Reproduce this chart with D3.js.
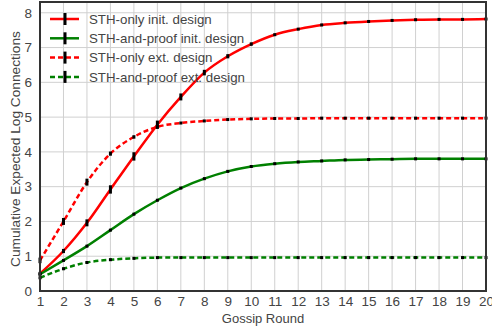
<!DOCTYPE html>
<html>
<head>
<meta charset="utf-8">
<script src="https://cdn.jsdelivr.net/npm/d3@7"></script>
<style>
body { margin: 0; background: #fff; }
text { font-family: "Liberation Sans", Arial, sans-serif; }
</style>
</head>
<body>
<script>
var width = 492;
var height = 330;

var rounds = d3.range(1, 21);

var sth_init = [0.5, 1.15, 1.96, 2.92, 3.87, 4.78, 5.58, 6.28, 6.75, 7.1, 7.37, 7.53, 7.65, 7.71, 7.75, 7.78, 7.8, 7.81, 7.81, 7.82];
var proof_init = [0.48, 0.88, 1.29, 1.75, 2.21, 2.61, 2.96, 3.23, 3.44, 3.58, 3.66, 3.71, 3.74, 3.77, 3.78, 3.79, 3.8, 3.8, 3.8, 3.8];
var sth_ext = [0.88, 2.0, 3.13, 3.95, 4.43, 4.72, 4.83, 4.89, 4.93, 4.95, 4.96, 4.96, 4.97, 4.97, 4.97, 4.97, 4.97, 4.97, 4.97, 4.97];
var proof_ext = [0.38, 0.64, 0.82, 0.9, 0.94, 0.96, 0.96, 0.96, 0.96, 0.96, 0.96, 0.96, 0.96, 0.96, 0.96, 0.96, 0.96, 0.96, 0.96, 0.96];

var sth_init_err = [0.05, 0.06, 0.1, 0.12, 0.12, 0.12, 0.1, 0.08, 0.06, 0.05, 0.04, 0.04, 0.04, 0.04, 0.04, 0.04, 0.04, 0.04, 0.04, 0.04];
var proof_init_err = [0.04, 0.04, 0.04, 0.04, 0.04, 0.04, 0.04, 0.04, 0.04, 0.04, 0.04, 0.04, 0.04, 0.04, 0.04, 0.04, 0.04, 0.04, 0.04, 0.04];
var sth_ext_err = [0.08, 0.1, 0.1, 0.06, 0.05, 0.04, 0.04, 0.04, 0.04, 0.04, 0.04, 0.04, 0.04, 0.04, 0.04, 0.04, 0.04, 0.04, 0.04, 0.04];
var proof_ext_err = [0.04, 0.04, 0.04, 0.04, 0.04, 0.04, 0.04, 0.04, 0.04, 0.04, 0.04, 0.04, 0.04, 0.04, 0.04, 0.04, 0.04, 0.04, 0.04, 0.04];

var series_names = ["STH-only init. design", "STH-and-proof init. design", "STH-only ext. design", "STH-and-proof ext. design"];
var series_colors = ["#ff0000", "#008000", "#ff0000", "#008000"];
var series_dashed = [false, false, true, true];
var series_values = [sth_init, proof_init, sth_ext, proof_ext];
var series_errs = [sth_init_err, proof_init_err, sth_ext_err, proof_ext_err];

var y_ticks = [0, 1, 2, 3, 4, 5, 6, 7, 8];

var plot_l = 40, plot_r = 486, plot_t = 2, plot_b = 291;

var svg = d3.select("body")
    .append("svg")
    .attr("width", width)
    .attr("height", height);

var x = d3.scaleLinear().domain([1, 20]).range([plot_l, plot_r]);
var y = d3.scaleLinear().domain([0, 8.31]).range([plot_b, plot_t]);

// grid
svg.append("g")
    .selectAll("line")
    .data(rounds)
    .enter()
    .append("line")
    .attr("x1", function(d) { return x(d); })
    .attr("x2", function(d) { return x(d); })
    .attr("y1", plot_t)
    .attr("y2", plot_b)
    .attr("stroke", "#d0d0d0")
    .attr("stroke-width", 1);

svg.append("g")
    .selectAll("line")
    .data(y_ticks)
    .enter()
    .append("line")
    .attr("x1", plot_l)
    .attr("x2", plot_r)
    .attr("y1", function(d) { return y(d); })
    .attr("y2", function(d) { return y(d); })
    .attr("stroke", "#d0d0d0")
    .attr("stroke-width", 1);

// axes (labels only)
var xAxis = svg.append("g")
    .attr("transform", "translate(0," + plot_b + ")")
    .call(d3.axisBottom(x).tickValues(rounds).tickSize(0).tickPadding(5).tickFormat(d3.format("d")));
var yAxis = svg.append("g")
    .attr("transform", "translate(" + plot_l + ",0)")
    .call(d3.axisLeft(y).tickValues(y_ticks).tickSize(0).tickPadding(8).tickFormat(d3.format("d")));

[xAxis, yAxis].forEach(function(a) {
    a.select(".domain").remove();
    a.selectAll("text")
        .attr("font-family", "Liberation Sans, Arial, sans-serif")
        .attr("font-size", "13.5px")
        .attr("fill", "#444");
});

svg.append("text")
    .attr("x", (plot_l + plot_r) / 2)
    .attr("y", 323)
    .attr("text-anchor", "middle")
    .attr("font-size", "13px")
    .attr("fill", "#444")
    .text("Gossip Round");

svg.append("text")
    .attr("transform", "translate(19.5,149) rotate(-90)")
    .attr("text-anchor", "middle")
    .attr("font-size", "13.7px")
    .attr("fill", "#444")
    .text("Cumulative Expected Log Connections");

// lines
var line = d3.line()
    .x(function(d, i) { return x(rounds[i]); })
    .y(function(d) { return y(d); })
    .curve(d3.curveMonotoneX);

var plot = svg.append("g");

series_values.forEach(function(vals, s) {
    plot.append("path")
        .datum(vals)
        .attr("d", line)
        .attr("fill", "none")
        .attr("stroke", series_colors[s])
        .attr("stroke-width", 2.5)
        .attr("stroke-dasharray", series_dashed[s] ? "5,3" : null);
});

series_values.forEach(function(vals, s) {
    plot.append("g")
        .selectAll("rect")
        .data(vals)
        .enter()
        .append("rect")
        .attr("x", function(d, i) { return x(rounds[i]) - 1.5; })
        .attr("y", function(d, i) { return Math.min(y(d + series_errs[s][i]), y(d) - 1.5); })
        .attr("width", 3)
        .attr("height", function(d, i) { return Math.max(y(d - series_errs[s][i]) - y(d + series_errs[s][i]), 3); })
        .attr("fill", "#000");
});

// frame
svg.append("rect")
    .attr("x", plot_l)
    .attr("y", plot_t)
    .attr("width", plot_r - plot_l)
    .attr("height", plot_b - plot_t)
    .attr("fill", "none")
    .attr("stroke", "#333")
    .attr("stroke-width", 2);

// legend
var legend = svg.append("g")
    .selectAll("g")
    .data(series_names)
    .enter()
    .append("g")
    .attr("transform", function(d, i) { return "translate(50," + (19 + i * 19.3) + ")"; });

legend.append("line")
    .attr("x1", 0)
    .attr("x2", 29)
    .attr("y1", 0)
    .attr("y2", 0)
    .attr("stroke", function(d, i) { return series_colors[i]; })
    .attr("stroke-width", 2.5)
    .attr("stroke-dasharray", function(d, i) { return series_dashed[i] ? "5,3" : null; });

legend.append("rect")
    .attr("x", 13.5)
    .attr("y", -6)
    .attr("width", 3)
    .attr("height", 12)
    .attr("fill", "#000");

legend.append("text")
    .attr("x", 39)
    .attr("y", 0)
    .attr("dy", "0.35em")
    .attr("font-size", "13.3px")
    .attr("fill", "#444")
    .text(function(d) { return d; });
</script>
</body>
</html>
